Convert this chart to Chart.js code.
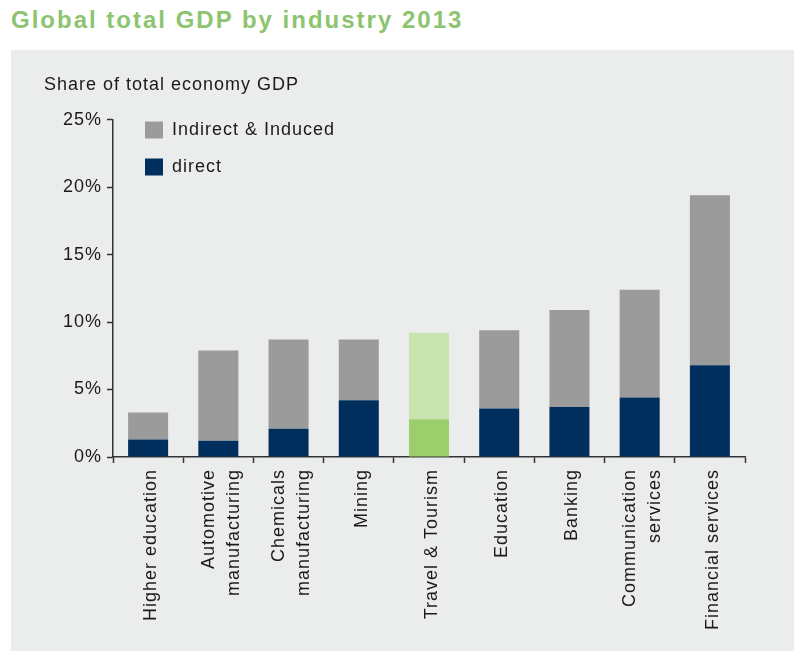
<!DOCTYPE html>
<html>
<head>
<meta charset="utf-8">
<script src="https://cdn.jsdelivr.net/npm/chart.js@4.4.1/dist/chart.umd.min.js"></script>
<style>
    body { margin: 0; background: #fff; font-family: "Liberation Sans", Arial, sans-serif; }
    h1 { position: absolute; left: 11px; top: 6px; margin: 0; font-size: 24px; font-weight: bold; color: #8dc470; letter-spacing: 2px; }
    #panel { position: absolute; left: 11px; top: 50px; width: 783px; height: 601px; background: #ebecec; }
</style>
</head>
<body>
<h1>Global total GDP by industry 2013</h1>
<div id="panel"><canvas id="gdpChart"></canvas></div>
<script>
// Industries (x axis), multi-line labels as in the original
const industries = [
    'Higher education',
    ['Automotive', 'manufacturing'],
    ['Chemicals', 'manufacturing'],
    'Mining',
    'Travel & Tourism',
    'Education',
    'Banking',
    ['Communication', 'services'],
    'Financial services'
];

// Share of total economy GDP, in %
const directShare   = [1.3, 1.2, 2.1, 4.2, 2.8, 3.6, 3.7, 4.4, 6.8];
const indirectShare = [2.0, 6.7, 6.6, 4.5, 6.4, 5.8, 7.2, 8.0, 12.6];

const yTicks = [0, 5, 10, 15, 20, 25];
const highlightIndex = 4; // Travel & Tourism is drawn in green

const navy = '#002e5d';
const grey = '#9b9b9b';
const green = '#9ccf6b';
const lightGreen = '#c9e4af';
const textColor = '#1a1a1a';
const axisColor = '#333';

// Chart.js has no letter spacing option, so set it on the context
const letterSpacingPlugin = {
    id: 'letterSpacing',
    beforeLayout(chart) { chart.ctx.letterSpacing = '1px'; },
    beforeDraw(chart) { chart.ctx.letterSpacing = '1px'; }
};

// Move the legend to the top-left corner inside the plot
const legendPlacePlugin = {
    id: 'legendPlace',
    afterLayout(chart) {
        const lg = chart.legend;
        lg.left += 13;
        lg.right += 13;
        lg.top += 52;
        lg.bottom += 52;
    }
};

// Rotated multi-line labels start at the tick; centre them on it instead
const centerMultiLinePlugin = {
    id: 'centerMultiLine',
    beforeDraw(chart) {
        chart.scales.x.getLabelItems().forEach(item => {
            if (Array.isArray(item.label) && !item.centered) {
                item.options.translation[0] -= (item.label.length - 1) * item.font.lineHeight / 2;
                item.centered = true;
            }
        });
    }
};

const ctx = document.getElementById('gdpChart').getContext('2d');
const gdpChart = new Chart(ctx, {
    type: 'bar',
    data: {
        labels: industries,
        datasets: [
            {
                label: 'direct',
                data: directShare,
                backgroundColor: c => c.dataIndex === highlightIndex ? green : navy,
                borderWidth: 0
            },
            {
                label: 'Indirect & Induced',
                data: indirectShare,
                backgroundColor: c => c.dataIndex === highlightIndex ? lightGreen : grey,
                borderWidth: 0
            }
        ]
    },
    options: {
        responsive: true,
        maintainAspectRatio: false,
        animation: false,
        events: [],
        datasets: {
            bar: { barPercentage: 0.57, categoryPercentage: 1 }
        },
        layout: {
            padding: { left: 33, right: 49, top: 0, bottom: 0 }
        },
        font: { family: '"Liberation Sans", Arial, sans-serif' },
        plugins: {
            title: {
                display: true,
                text: 'Share of total economy GDP',
                align: 'start',
                color: textColor,
                font: { size: 18, weight: 'normal' },
                padding: { top: 24, bottom: 24 }
            },
            legend: {
                position: 'chartArea',
                align: 'start',
                reverse: true,
                labels: {
                    boxWidth: 18,
                    boxHeight: 17,
                    padding: 19,
                    color: textColor,
                    font: { size: 18 }
                }
            },
            tooltip: { enabled: false }
        },
        scales: {
            x: {
                stacked: true,
                grid: { offset: true, drawOnChartArea: false, tickLength: 6, color: axisColor, tickWidth: 1.5 },
                border: { color: axisColor, width: 1.5 },
                ticks: {
                    autoSkip: false,
                    minRotation: 90,
                    maxRotation: 90,
                    padding: 6,
                    labelOffset: 3,
                    color: textColor,
                    font: { size: 18, lineHeight: 1.4 }
                },
                afterFit: scale => { scale.height = 194; }
            },
            y: {
                stacked: true,
                min: yTicks[0],
                max: yTicks[yTicks.length - 1],
                afterBuildTicks: scale => { scale.ticks = yTicks.map(v => ({ value: v })); },
                grid: { drawOnChartArea: false, tickLength: 6, color: axisColor, tickWidth: 1.5 },
                border: { color: axisColor, width: 1.5 },
                ticks: {
                    padding: 5,
                    color: textColor,
                    font: { size: 18 },
                    callback: v => v + '%'
                },
                afterFit: scale => { scale.width = 69; }
            }
        }
    },
    plugins: [letterSpacingPlugin, legendPlacePlugin, centerMultiLinePlugin]
});
</script>
</body>
</html>
